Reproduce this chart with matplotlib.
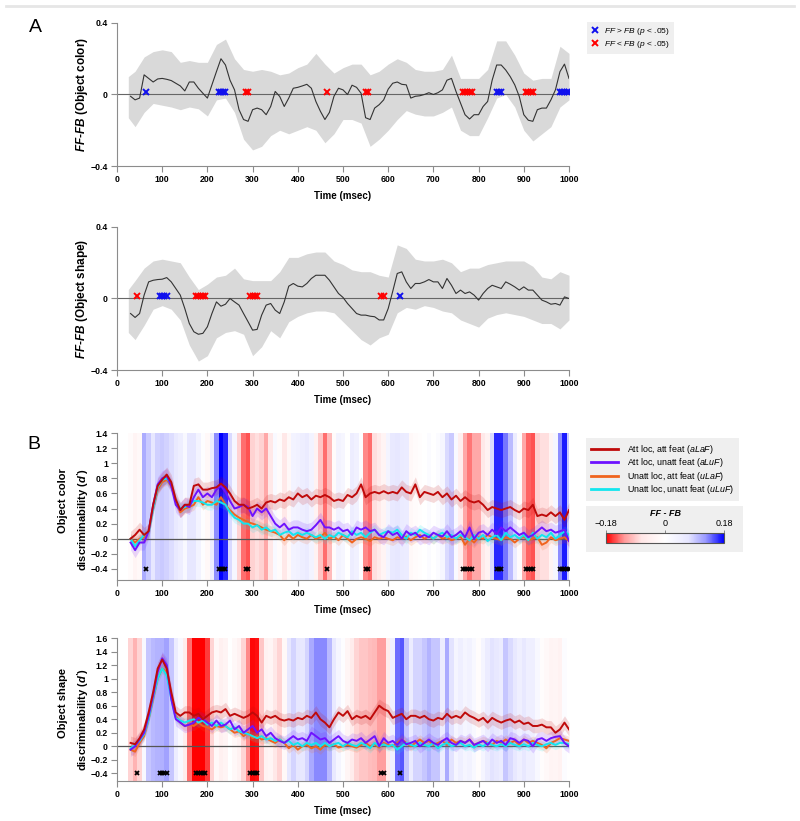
import numpy as np
import matplotlib.pyplot as plt
from matplotlib.colors import LinearSegmentedColormap, Normalize
from matplotlib.cm import ScalarMappable
from matplotlib.lines import Line2D

plt.rcParams['font.family'] = 'Liberation Sans'
plt.rcParams['mathtext.fontset'] = 'custom'
plt.rcParams['mathtext.rm'] = 'Liberation Sans'
plt.rcParams['mathtext.it'] = 'Liberation Sans:italic'
plt.rcParams['mathtext.bf'] = 'Liberation Sans:bold'
plt.rcParams['mathtext.bfit'] = 'Liberation Sans:italic:bold'

# time axis (msec), 10 ms steps
times = np.arange(30, 1001, 10)
band_times = np.r_[25, np.arange(40, 1001, 20)]

# FF - FB difference, object color
color_diff = [-0.01, -0.03, -0.02, 0.11, 0.09, 0.07, 0.087, 0.09, 0.085, 0.078,
              0.063, 0.048, 0.02, 0.07, 0.07, 0.035, 0.007, -0.02, 0.054, 0.128,
              0.2, 0.165, 0.08, 0.026, -0.085, -0.14, -0.15, -0.085, -0.076, -0.085,
              -0.113, -0.067, 0.017, -0.011, -0.067, -0.02, 0.035, 0.04, 0.048, 0.057,
              0.035, -0.039, -0.094, -0.14, -0.1, -0.01, 0.035, 0.026, 0.0, 0.052,
              0.04, 0.007, -0.13, -0.14, -0.076, -0.057, -0.03, 0.03, 0.063, 0.07,
              0.057, 0.054, -0.02, -0.01, -0.007, 0.0, 0.01, 0.0, 0.01, 0.026,
              0.08, 0.09, 0.017, -0.048, -0.113, -0.137, -0.113, -0.113, -0.067, -0.039,
              0.08, 0.165, 0.165, 0.137, 0.1, 0.054, -0.011, -0.113, -0.144, -0.15,
              -0.085, -0.076, -0.076, -0.03, 0.026, 0.128, 0.17, 0.09]
color_hi = [0.10, 0.13, 0.21, 0.24, 0.25, 0.24, 0.18, 0.19, 0.18, 0.18,
            0.28, 0.31, 0.2, 0.14, 0.13, 0.14, 0.13, 0.11, 0.12, 0.15,
            0.17, 0.23, 0.17, 0.12, 0.15, 0.17, 0.17, 0.11, 0.13, 0.17,
            0.2, 0.18, 0.14, 0.13, 0.13, 0.14, 0.22, 0.09, 0.09, 0.09,
            0.14, 0.3, 0.3, 0.22, 0.12, 0.08, 0.09, 0.09, 0.27, 0.23]
color_lo = [-0.13, -0.18, -0.10, -0.05, -0.06, -0.07, -0.085, -0.07, -0.08, -0.12,
            -0.03, -0.02, -0.1, -0.25, -0.31, -0.29, -0.23, -0.2, -0.22, -0.2,
            -0.18, -0.2, -0.27, -0.22, -0.14, -0.14, -0.16, -0.29, -0.25, -0.2,
            -0.14, -0.09, -0.11, -0.12, -0.12, -0.1, -0.07, -0.2, -0.23, -0.23,
            -0.13, -0.02, 0.0, -0.07, -0.2, -0.26, -0.22, -0.18, -0.07, -0.03]

# FF - FB difference, object shape
shape_diff = [-0.084, -0.106, -0.084, 0.019, 0.093, 0.102, 0.106, 0.108, 0.117, 0.093,
              0.056, 0.019, -0.056, -0.14, -0.186, -0.2, -0.195, -0.158, -0.084, -0.019,
              -0.043, -0.032, 0.0, -0.019, -0.037, -0.084, -0.13, -0.177, -0.173, -0.093,
              -0.037, -0.028, -0.065, -0.084, -0.019, 0.069, 0.084, 0.069, 0.065, 0.084,
              0.112, 0.13, 0.13, 0.13, 0.102, 0.065, 0.028, 0.006, -0.028, -0.056,
              -0.084, -0.093, -0.093, -0.099, -0.102, -0.12, -0.12, -0.056, 0.04, 0.14,
              0.149, 0.093, 0.056, 0.084, 0.084, 0.093, 0.106, 0.093, 0.093, 0.056,
              0.112, 0.074, 0.028, 0.047, 0.028, 0.037, 0.019, -0.009, 0.028, 0.056,
              0.074, 0.065, 0.056, 0.093, 0.08, 0.065, 0.047, 0.065, 0.047, 0.047,
              0.019, -0.009, -0.019, -0.032, -0.028, -0.037, 0.009, 0.0]
shape_hi = [0.05, 0.1, 0.17, 0.21, 0.22, 0.21, 0.2, 0.12, 0.05, 0.08,
            0.12, 0.13, 0.17, 0.11, 0.1, 0.1, 0.1, 0.15, 0.23, 0.23,
            0.25, 0.26, 0.26, 0.21, 0.19, 0.16, 0.15, 0.15, 0.13, 0.12,
            0.3, 0.28, 0.22, 0.21, 0.21, 0.22, 0.2, 0.15, 0.17, 0.17,
            0.19, 0.2, 0.21, 0.21, 0.21, 0.18, 0.12, 0.11, 0.15, 0.13]
shape_lo = [-0.19, -0.23, -0.15, -0.06, -0.04, -0.06, -0.12, -0.26, -0.35, -0.32,
            -0.22, -0.19, -0.18, -0.2, -0.32, -0.27, -0.18, -0.22, -0.13, -0.1,
            -0.08, -0.07, -0.07, -0.08, -0.13, -0.18, -0.23, -0.26, -0.22, -0.2,
            -0.08, -0.05, -0.06, -0.04, -0.05, -0.07, -0.08, -0.12, -0.14, -0.16,
            -0.11, -0.09, -0.08, -0.09, -0.1, -0.12, -0.14, -0.14, -0.17, -0.12]

# significant time points (p < .05)
color_up = [65, 225, 230, 235, 240, 840, 845, 850, 980, 985, 990, 995, 1000]
color_down = [285, 290, 465, 550, 555, 765, 770, 775, 780, 785, 905, 910, 915, 920]
shape_up = [95, 100, 105, 110, 625]
shape_down = [45, 175, 180, 185, 190, 195, 295, 300, 305, 310, 585, 590]

# discriminability (d') per condition
cond_labels = ['Att loc, att feat ($\\mathit{aLaF}$)', 'Att loc, unatt feat ($\\mathit{aLuF}$)',
               'Unatt loc, att feat ($\\mathit{uLaF}$)', 'Unatt loc, unatt feat ($\\mathit{uLuF}$)']
cond_colors = ['#bf0a0a', '#6e12ff', '#f0641e', '#12e6ee']
cond_ci = [0.1, 0.1, 0.07, 0.07]

color_red = [0.0, 0.05, 0.12, 0.05, 0.1, 0.45, 0.7, 0.78, 0.85, 0.75,
             0.52, 0.38, 0.45, 0.45, 0.7, 0.72, 0.65, 0.65, 0.67, 0.68,
             0.73, 0.68, 0.6, 0.5, 0.45, 0.45, 0.4, 0.42, 0.45, 0.4,
             0.48, 0.5, 0.48, 0.52, 0.5, 0.55, 0.52, 0.6, 0.55, 0.58,
             0.52, 0.57, 0.55, 0.58, 0.55, 0.5, 0.52, 0.5, 0.58, 0.55,
             0.6, 0.72, 0.55, 0.6, 0.62, 0.6, 0.63, 0.6, 0.62, 0.6,
             0.68, 0.62, 0.6, 0.72, 0.55, 0.62, 0.6, 0.58, 0.62, 0.55,
             0.6, 0.52, 0.57, 0.5, 0.55, 0.5, 0.48, 0.5, 0.45, 0.38,
             0.42, 0.4, 0.38, 0.4, 0.42, 0.38, 0.35, 0.4, 0.38, 0.45,
             0.3, 0.32, 0.3, 0.35, 0.3, 0.35, 0.25, 0.38]
color_purple = [-0.05, -0.15, -0.05, -0.05, 0.1, 0.45, 0.72, 0.8, 0.83, 0.7,
                0.45, 0.38, 0.45, 0.42, 0.55, 0.65, 0.55, 0.6, 0.55, 0.65,
                0.7, 0.62, 0.5, 0.4, 0.42, 0.45, 0.42, 0.3, 0.4, 0.35,
                0.4, 0.3, 0.2, 0.15, 0.2, 0.12, 0.15, 0.15, 0.12, 0.1,
                0.12, 0.18, 0.25, 0.15, 0.15, 0.12, 0.15, 0.1, 0.12, 0.05,
                0.15, 0.12, 0.15, 0.1, 0.12, 0.05, 0.02, 0.1, 0.05, 0.08,
                0.0, 0.1, 0.05, 0.08, 0.02, 0.05, 0.02, 0.08, 0.05, 0.03,
                0.1, 0.02, 0.05, 0.1, 0.02, 0.15, 0.0, 0.08, 0.1, 0.05,
                0.12, 0.06, 0.15, 0.1, 0.15, 0.1, 0.05, 0.08, 0.02, 0.05,
                0.1, 0.15, 0.1, 0.12, 0.08, 0.1, 0.12, -0.03]
color_orange = [0.0, -0.05, 0.0, 0.02, 0.1, 0.4, 0.65, 0.75, 0.78, 0.7,
                0.5, 0.35, 0.4, 0.42, 0.45, 0.55, 0.45, 0.5, 0.48, 0.45,
                0.55, 0.45, 0.38, 0.32, 0.28, 0.25, 0.22, 0.2, 0.18, 0.15,
                0.12, 0.1, 0.08, 0.05, -0.02, 0.05, 0.0, 0.05, 0.02, 0.0,
                0.05, 0.0, 0.02, 0.08, 0.0, 0.03, -0.02, 0.05, 0.0, -0.05,
                0.0, 0.02, 0.0, -0.03, 0.02, 0.0, 0.02, 0.0, -0.02, 0.02,
                0.0, 0.03, -0.02, 0.02, 0.05, 0.0, 0.03, 0.0, 0.05, 0.0,
                0.02, -0.02, 0.0, 0.03, -0.08, 0.0, -0.05, 0.02, 0.0, 0.05,
                0.02, 0.0, -0.02, 0.02, 0.0, -0.05, 0.0, 0.03, -0.02, 0.0,
                0.02, -0.08, -0.05, 0.02, -0.02, 0.0, 0.02, -0.03]
color_cyan = [0.0, -0.1, -0.02, 0.05, 0.08, 0.4, 0.68, 0.78, 0.8, 0.72,
              0.5, 0.4, 0.42, 0.45, 0.5, 0.5, 0.48, 0.45, 0.45, 0.5,
              0.48, 0.45, 0.35, 0.28, 0.25, 0.2, 0.2, 0.15, 0.18, 0.12,
              0.15, 0.1, 0.12, 0.05, 0.08, 0.1, 0.05, 0.08, 0.05, 0.08,
              0.05, 0.02, 0.05, 0.0, 0.05, 0.02, 0.08, 0.05, 0.02, 0.1,
              0.05, 0.08, 0.02, 0.08, 0.12, 0.05, 0.08, 0.1, 0.08, 0.12,
              0.05, 0.0, 0.08, 0.05, 0.12, 0.08, 0.05, 0.0, 0.05, 0.08,
              0.02, 0.05, 0.0, 0.05, 0.02, -0.02, 0.05, 0.0, 0.05, -0.03,
              0.02, 0.05, -0.02, 0.08, 0.02, 0.05, 0.0, 0.05, -0.02, 0.08,
              0.0, 0.05, 0.02, 0.08, 0.0, 0.05, 0.1, 0.05]

shape_red = [0.05, 0.03, 0.12, 0.25, 0.5, 0.8, 1.15, 1.28, 1.15, 0.8,
             0.5, 0.45, 0.5, 0.5, 0.45, 0.48, 0.4, 0.45, 0.5, 0.52,
             0.5, 0.55, 0.45, 0.48, 0.45, 0.42, 0.45, 0.5, 0.45, 0.35,
             0.45, 0.42, 0.45, 0.4, 0.38, 0.4, 0.38, 0.42, 0.4, 0.45,
             0.42, 0.5, 0.4, 0.35, 0.28, 0.4, 0.5, 0.45, 0.52, 0.4,
             0.45, 0.42, 0.45, 0.4, 0.5, 0.6, 0.55, 0.52, 0.42, 0.45,
             0.48, 0.4, 0.45, 0.45, 0.42, 0.45, 0.4, 0.38, 0.42, 0.4,
             0.48, 0.42, 0.45, 0.42, 0.5, 0.45, 0.42, 0.38, 0.42, 0.35,
             0.42, 0.38, 0.35, 0.38, 0.4, 0.35, 0.38, 0.33, 0.35, 0.3,
             0.3, 0.32, 0.28, 0.28, 0.2, 0.25, 0.35, 0.25]
shape_purple = [-0.05, 0.0, 0.1, 0.2, 0.45, 0.75, 1.1, 1.3, 1.2, 0.7,
                0.4, 0.35, 0.3, 0.32, 0.35, 0.42, 0.4, 0.35, 0.3, 0.38,
                0.3, 0.32, 0.38, 0.25, 0.3, 0.2, 0.25, 0.3, 0.2, 0.25,
                0.15, 0.2, 0.12, 0.08, 0.05, 0.1, 0.15, 0.1, 0.12, 0.08,
                0.2, 0.15, 0.1, 0.12, 0.05, 0.1, 0.15, 0.08, 0.05, 0.1,
                0.08, 0.12, 0.05, 0.1, 0.15, 0.0, 0.12, 0.05, 0.08, 0.02,
                0.1, 0.03, 0.05, 0.08, 0.0, 0.05, 0.1, 0.05, 0.02, 0.08,
                0.12, 0.05, 0.02, 0.08, 0.05, 0.1, 0.02, 0.05, 0.08, 0.02,
                0.1, 0.05, 0.08, 0.02, 0.12, 0.1, 0.05, 0.1, 0.08, 0.0,
                0.1, 0.12, 0.08, 0.12, 0.14, 0.15, 0.05, 0.0]
shape_orange = [-0.05, -0.08, 0.05, 0.15, 0.4, 0.7, 1.0, 1.15, 1.1, 0.75,
                0.45, 0.35, 0.3, 0.32, 0.3, 0.35, 0.3, 0.28, 0.25, 0.3,
                0.28, 0.3, 0.25, 0.2, 0.22, 0.15, 0.2, 0.12, 0.15, 0.1,
                0.12, 0.08, 0.05, 0.1, 0.05, -0.03, 0.02, -0.05, 0.0, 0.02,
                -0.03, 0.0, -0.05, 0.02, 0.0, 0.03, -0.02, 0.0, 0.02, 0.0,
                -0.02, 0.02, 0.05, 0.0, 0.03, -0.02, 0.05, 0.02, 0.0, 0.05,
                0.1, 0.05, 0.0, 0.05, 0.1, 0.05, 0.08, 0.02, 0.05, 0.08,
                0.02, 0.1, 0.05, 0.08, 0.05, 0.1, 0.02, 0.05, 0.08, 0.05,
                0.02, 0.08, 0.05, 0.1, 0.05, 0.08, 0.02, 0.1, 0.05, 0.08,
                0.05, 0.02, -0.03, 0.05, 0.08, 0.12, 0.1, 0.08]
shape_cyan = [-0.03, 0.02, 0.08, 0.18, 0.4, 0.72, 1.0, 1.15, 1.05, 0.7,
              0.42, 0.38, 0.35, 0.38, 0.4, 0.35, 0.38, 0.32, 0.35, 0.3,
              0.35, 0.3, 0.25, 0.28, 0.22, 0.2, 0.18, 0.15, 0.12, 0.15,
              0.1, 0.12, 0.08, 0.1, 0.05, 0.08, 0.02, 0.05, 0.0, 0.05,
              0.02, 0.05, 0.0, 0.05, 0.0, 0.03, 0.05, 0.0, 0.05, 0.02,
              0.0, 0.05, 0.02, -0.03, 0.05, 0.0, 0.03, 0.0, 0.02, -0.05,
              0.0, 0.05, 0.02, 0.0, 0.05, 0.02, 0.0, 0.05, -0.03, 0.02,
              0.05, 0.0, 0.02, 0.05, 0.0, 0.02, -0.02, 0.03, 0.0, 0.05,
              0.02, 0.0, 0.03, 0.0, 0.05, 0.02, 0.0, 0.03, 0.0, 0.05,
              0.02, 0.0, 0.03, 0.05, 0.02, 0.05, 0.05, 0.03]

W, H = 800, 821
fig = plt.figure(figsize=(W / 100, H / 100), dpi=100)
axcol = '#8c8c8c'
# red-white-blue, fading quickly towards white
rwb = LinearSegmentedColormap.from_list('rwb', [
    (0.0, '#ff0000'), (0.15, '#ff9696'), (0.3, '#ffe6e6'), (0.5, '#ffffff'),
    (0.7, '#e6e6ff'), (0.85, '#9696ff'), (1.0, '#0000ff')])
norm = Normalize(-0.18, 0.18)


def box(x0, y0, x1, y1):
    # pixel box -> figure axes
    return fig.add_axes([x0 / W, 1 - y1 / H, (x1 - x0) / W, (y1 - y0) / H])


def style(ax, yticks, ylabels, ylim):
    for s in ['top', 'right']:
        ax.spines[s].set_visible(False)
    for s in ['left', 'bottom']:
        ax.spines[s].set_color(axcol)
        ax.spines[s].set_linewidth(0.8)
    ax.set_xlim(0, 1000)
    ax.set_ylim(*ylim)
    ax.set_xticks(range(0, 1001, 100))
    ax.set_yticks(yticks)
    ax.set_yticklabels(ylabels)
    ax.tick_params(length=4, width=0.8, color=axcol, labelsize=6.3, pad=2.5)
    for t in ax.get_xticklabels() + ax.get_yticklabels():
        t.set_fontweight('bold')
    ax.set_xlabel('Time (msec)', fontsize=7, fontweight='bold', labelpad=5)


# ---- panel A ----
for (y0, y1), diff, lo, hi, up, down, name in [
        ((23, 166), color_diff, color_lo, color_hi, color_up, color_down, 'color'),
        ((227, 370), shape_diff, shape_lo, shape_hi, shape_up, shape_down, 'shape')]:
    ax = box(117, y0, 569, y1)
    style(ax, [-0.4, 0, 0.4], ['\u22120.4', '0', '0.4'], (-0.4, 0.4))
    ax.fill_between(band_times, lo, hi, color='#d9d9d9', lw=0)
    ax.axhline(0, color='#666666', lw=0.8)
    ax.plot(times, diff, color='#333333', lw=0.8)
    ax.plot(up, [0.012] * len(up), 'x', color='#1010ee', ms=4.5, mew=1.4)
    ax.plot(down, [0.012] * len(down), 'x', color='#ff0000', ms=4.5, mew=1.4)
    fig.text(82 / W, 1 - (y0 + y1) / 2 / H,
             '$\\mathbfit{FF}$-$\\mathbfit{FB}$ (Object %s)' % name,
             rotation=90, ha='center', va='center', fontsize=8.5, fontweight='bold')

# ---- panel B ----
edges = np.append(times - 5, times[-1] + 5)
for (y0, y1), diff, lines, up, down, yt, ylim, top, name in [
        ((433, 580), color_diff, [color_red, color_purple, color_orange, color_cyan],
         color_up, color_down, np.arange(-0.4, 1.41, 0.2), (-0.546, 1.4), 468, 'color'),
        ((638, 781), shape_diff, [shape_red, shape_purple, shape_orange, shape_cyan],
         shape_up, shape_down, np.arange(-0.4, 1.61, 0.2), (-0.513, 1.6), 668, 'shape')]:
    ax = box(117, y0, 569, y1)
    labs = ['%g' % round(v, 1) for v in yt]
    labs = [l.replace('-', '\u2212') for l in labs]
    style(ax, yt, labs, ylim)
    ax.pcolormesh(edges, list(ylim), np.array(diff)[None, :], cmap=rwb, norm=norm,
                  shading='flat', antialiased=False, zorder=0)
    ax.axhline(0, color='#555555', lw=0.9, zorder=1)
    for k in [2, 3, 1, 0]:
        y = np.array(lines[k])
        ax.fill_between(times, y - cond_ci[k], y + cond_ci[k], color=cond_colors[k],
                        alpha=0.15, lw=0, zorder=2)
    for k in [2, 3, 1, 0]:
        ax.plot(times, lines[k], color=cond_colors[k], lw=1.4, zorder=3)
    sig = up + down
    ax.plot(sig, [-0.4] * len(sig), 'x', color='black', ms=3.5, mew=1.3, zorder=4)
    fig.text(63 / W, 1 - top / H, 'Object %s' % name, rotation=90, ha='center', va='top',
             fontsize=8, fontweight='bold')
    fig.text(83 / W, 1 - top / H, "discriminability ($\\mathbfit{d'}$)", rotation=90,
             ha='center', va='top', fontsize=8, fontweight='bold')

# legends
hA = [Line2D([], [], marker='x', ls='none', color='#1010ee', ms=4.5, mew=1.4),
      Line2D([], [], marker='x', ls='none', color='#ff0000', ms=4.5, mew=1.4)]
fig.legend(hA, ['$\\mathit{FF}$ > $\\mathit{FB}$ ($\\mathit{p}$ < .05)',
                '$\\mathit{FF}$ < $\\mathit{FB}$ ($\\mathit{p}$ < .05)'],
           loc='upper left', bbox_to_anchor=(587 / W, 1 - 22 / H), fontsize=6,
           frameon=True, facecolor='#efefef', edgecolor='none', fancybox=False,
           framealpha=1, handlelength=1, handletextpad=0.6, borderpad=0.5,
           labelspacing=0.2, borderaxespad=0)

hB = [Line2D([], [], color=c, lw=2) for c in cond_colors]
fig.legend(hB, cond_labels, loc='upper left', bbox_to_anchor=(586 / W, 1 - 438 / H),
           fontsize=6.4, frameon=True, facecolor='#efefef', edgecolor='none',
           fancybox=False, framealpha=1, handlelength=3.1, handletextpad=1.0,
           borderpad=0.55, labelspacing=0.06, borderaxespad=0)

bg = box(586, 506, 743, 552)
bg.set_facecolor('#efefef')
bg.set_xticks([])
bg.set_yticks([])
for s in bg.spines.values():
    s.set_visible(False)
fig.text(665 / W, 1 - 513 / H, 'FF - FB', ha='center', va='center', fontsize=6.5,
         fontweight='bold', fontstyle='italic')
cax = box(606, 533, 724, 543)
cb = fig.colorbar(ScalarMappable(norm=norm, cmap=rwb), cax=cax, orientation='horizontal',
                  ticklocation='top')
cb.set_ticks([-0.18, 0, 0.18])
cb.set_ticklabels(['\u22120.18', '0', '0.18'])
cb.ax.tick_params(labelsize=6.5, length=2, width=0.6, color='#777777', pad=1.5)
cb.outline.set_edgecolor('#555555')
cb.outline.set_linewidth(0.8)

fig.text(35 / W, 1 - 27 / H, 'A', fontsize=14, ha='center', va='center')
fig.text(34 / W, 1 - 444 / H, 'B', fontsize=14, ha='center', va='center')
fig.add_artist(Line2D([0.008, 0.992], [1 - 6 / H] * 2, color='#e6e6e6', lw=2))

fig.savefig('out.png', dpi=100)
